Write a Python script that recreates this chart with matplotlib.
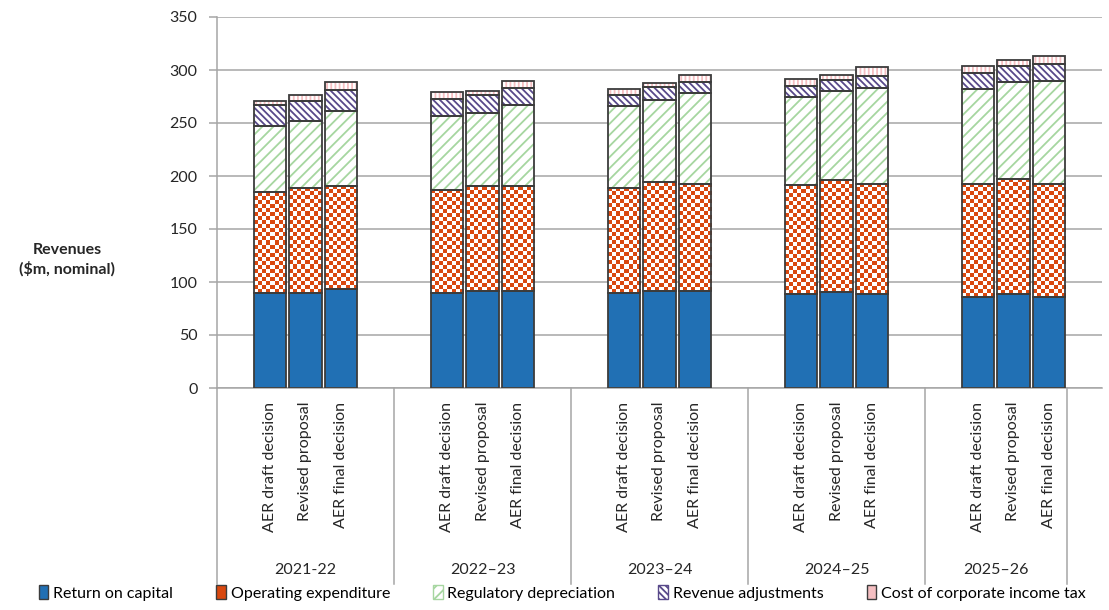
import numpy as np
import matplotlib
matplotlib.use('Agg')
import matplotlib.pyplot as plt
from matplotlib.colors import ListedColormap
from matplotlib.patches import Patch
from matplotlib.transforms import blended_transform_factory

plt.rcParams['font.family'] = ['Lato', 'DejaVu Sans']
plt.rcParams['hatch.linewidth'] = 1.3

# categories
years = ['2021-22', '2022–23', '2023–24', '2024–25', '2025–26']
versions = ['AER draft decision', 'Revised proposal', 'AER final decision']

# $m nominal, one row per year: draft / revised / final
return_on_capital = [[89.9, 89.9, 93.1],
                     [89.9, 91.5, 91.5],
                     [89.9, 91.5, 91.5],
                     [88.7, 90.3, 88.7],
                     [85.8, 88.7, 85.8]]
operating_expenditure = [[94.7, 99.1, 97.2],
                         [97.2, 98.8, 98.8],
                         [99.1, 102.8, 101.3],
                         [102.8, 105.6, 104.1],
                         [107.0, 108.5, 107.0]]
regulatory_depreciation = [[62.9, 62.9, 71.0],
                           [69.8, 69.4, 76.4],
                           [76.7, 77.7, 85.2],
                           [83.3, 84.6, 90.5],
                           [89.0, 91.5, 97.1]]
revenue_adjustments = [[19.5, 19.2, 19.5],
                       [15.4, 16.7, 16.6],
                       [10.7, 11.6, 10.7],
                       [9.8, 9.8, 11.0],
                       [15.4, 15.4, 15.4]]
corporate_tax = [[3.8, 5.3, 8.2],
                 [6.6, 4.1, 6.6],
                 [5.4, 3.8, 6.9],
                 [6.9, 5.3, 8.2],
                 [6.9, 5.3, 8.2]]

blue = '#2170B4'
orange = '#D9480F'
green = '#A6D6A0'
purple = '#58498A'
pink = '#F5BFC2'
edge = '#3C3C3C'
grey = '#A6A6A6'
fs = 11.5

# slot layout: each year = blank, 3 bars, blank
x = np.array([5 * g + v + 1 for g in range(len(years)) for v in range(3)], dtype=float)
roc = np.ravel(return_on_capital)
opx = np.ravel(operating_expenditure)
dep = np.ravel(regulatory_depreciation)
adj = np.ravel(revenue_adjustments)
tax = np.ravel(corporate_tax)
w = 0.92

fig = plt.figure(figsize=(11.09, 6.10), dpi=100)
ax = fig.add_axes([217 / 1109, 222 / 610, 885 / 1109, 371 / 610])

b1 = roc
b2 = b1 + opx
b3 = b2 + dep
b4 = b3 + adj

ax.bar(x, roc, w, color=blue, linewidth=0, zorder=2)
ax.bar(x, opx, w, bottom=b1, color='white', linewidth=0, zorder=2)
ax.bar(x, dep, w, bottom=b2, facecolor='white', edgecolor=green, hatch='///', linewidth=0, zorder=2)
ax.bar(x, adj, w, bottom=b3, facecolor='white', edgecolor=purple, hatch='\\\\\\\\\\', linewidth=0, zorder=2)
ax.bar(x, tax, w, bottom=b4, facecolor='white', edgecolor=pink, hatch='||||', linewidth=0, zorder=2)

# checkerboard for operating expenditure
checker = ListedColormap(['white', orange])
for xi, b, h in zip(x, b1, opx):
    nrows = max(1, int(round(h / 3.8)))
    ncols = 8
    arr = np.add.outer(np.arange(nrows), np.arange(ncols)) % 2
    ax.imshow(arr, extent=(xi - w / 2, xi + w / 2, b, b + h), origin='lower',
              aspect='auto', interpolation='nearest', cmap=checker, zorder=2.5)

# outlines of every segment
for vals, bot in [(roc, 0), (opx, b1), (dep, b2), (adj, b3), (tax, b4)]:
    ax.bar(x, vals, w, bottom=bot, facecolor='none', edgecolor=edge, linewidth=1.3, zorder=4)

ax.set_xlim(-0.5, 24.5)
ax.set_ylim(0, 350)
ax.set_yticks(np.arange(0, 351, 50))
ax.yaxis.grid(True, color=grey, linewidth=1.1, zorder=0)
ax.set_axisbelow(True)
for s in ['top', 'right']:
    ax.spines[s].set_visible(False)
ax.spines['left'].set_color(grey)
ax.spines['bottom'].set_color(grey)
ax.spines['left'].set_linewidth(1.1)
ax.spines['bottom'].set_linewidth(1.1)
ax.tick_params(axis='y', length=6, color=grey, width=1.1, pad=8, labelsize=fs, labelcolor='#262626')
ax.set_xticks(x)
ax.set_xticklabels(versions * len(years), rotation=90, fontsize=fs, color='#262626')
ax.tick_params(axis='x', length=0, pad=10)

trans = blended_transform_factory(ax.transData, ax.transAxes)
seps = [-0.5, 4.5, 9.5, 14.5, 19.5, 23.5]
for s in seps:
    ax.plot([s, s], [0, -0.527], color=grey, linewidth=1.1, transform=trans, clip_on=False)
for g, yr in enumerate(years):
    cx = (seps[g] + seps[g + 1]) / 2
    ax.text(cx, -0.49, yr, transform=trans, ha='center', va='center', fontsize=fs, color='#262626')

fig.text(67 / 1109, 1 - 260 / 610, 'Revenues\n($m, nominal)', ha='center', va='center',
         fontsize=fs, fontweight='bold', color='#262626', linespacing=1.35)

handles = [Patch(facecolor=blue, edgecolor=edge),
           Patch(facecolor=orange, edgecolor=edge),
           Patch(facecolor='white', edgecolor=green, hatch='///'),
           Patch(facecolor='white', edgecolor=purple, hatch='\\\\\\\\\\'),
           Patch(facecolor=pink, edgecolor=edge)]
labels = ['Return on capital', 'Operating expenditure', 'Regulatory depreciation',
          'Revenue adjustments', 'Cost of corporate income tax']
fig.legend(handles, labels, loc='lower center', bbox_to_anchor=(0.507, -0.008), ncol=5,
           frameon=False, fontsize=fs, handlelength=0.6, handleheight=0.9,
           handletextpad=0.3, columnspacing=2.7)

fig.savefig('out.png', dpi=100)
